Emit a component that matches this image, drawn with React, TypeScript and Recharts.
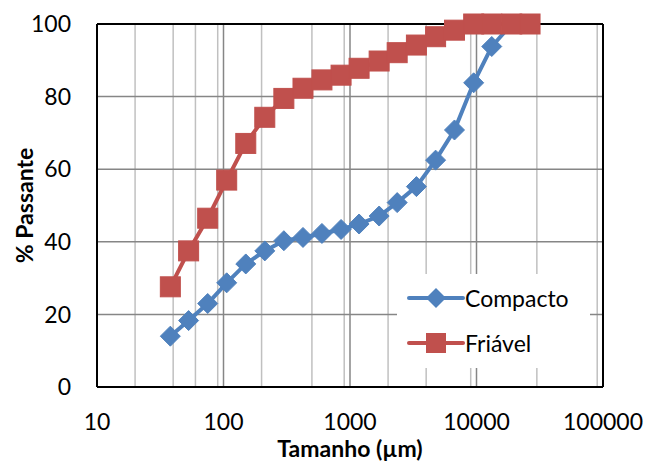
import React from "react";
import {
  LineChart,
  Line,
  XAxis,
  YAxis,
  CartesianGrid,
  ReferenceLine,
  Legend,
} from "recharts";

if (typeof document !== "undefined") document.body.style.margin = "0";

// peneiras (µm)
const sizes = [38, 53, 75, 106, 150, 212, 300, 425, 600, 850, 1180, 1700, 2360, 3350, 4750, 6700, 9500, 13200, 19000, 26500];
const compacto = [14.0, 18.3, 23.0, 28.7, 33.9, 37.5, 40.3, 41.2, 42.3, 43.4, 44.9, 47.1, 50.8, 55.2, 62.5, 70.8, 83.8, 93.8, 100, 100];
const friavel = [27.6, 37.5, 46.5, 57.0, 67.1, 74.3, 79.5, 82.3, 84.6, 85.9, 87.8, 89.8, 92.1, 94.2, 96.5, 98.3, 100, 100, 100, 100];

const xTicks = [10, 100, 1000, 10000, 100000];
const yTicks = [0, 20, 40, 60, 80, 100];

const BLUE = "#4F81BD";
const RED = "#C0504D";
const FONT = "Lato, 'Liberation Sans', sans-serif";

const data = sizes.map((size, i) => ({ size, compacto: compacto[i], friavel: friavel[i] }));

const minorX: number[] = [];
for (const d of [10, 100, 1000, 10000]) {
  for (let k = 2; k <= 9; k++) minorX.push(k * d);
}

const Diamond = (props: any) => {
  const { cx, cy, index } = props;
  if (cx == null || cy == null) return <g key={`d-${index}`} />;
  const r = 10;
  return (
    <path
      key={`d-${index}`}
      d={`M${cx},${cy - r}L${cx + r},${cy}L${cx},${cy + r}L${cx - r},${cy}Z`}
      fill={BLUE}
      stroke={BLUE}
    />
  );
};

const Square = (props: any) => {
  const { cx, cy, index } = props;
  if (cx == null || cy == null) return <g key={`s-${index}`} />;
  const r = 10;
  return <rect key={`s-${index}`} x={cx - r} y={cy - r} width={2 * r} height={2 * r} fill={RED} stroke={RED} />;
};

const series = [
  { name: "Compacto", color: BLUE, shape: "diamond" },
  { name: "Friável", color: RED, shape: "square" },
];

const renderLegend = () => (
  <div style={{ paddingTop: 1 }}>
    {series.map((s) => (
      <div key={s.name} style={{ display: "flex", alignItems: "center", height: 45 }}>
        <svg width={70} height={24} style={{ marginLeft: 10 }}>
          <line x1={2} y1={12} x2={56} y2={12} stroke={s.color} strokeWidth={4} strokeLinecap="round" />
          {s.shape === "diamond" ? (
            <path d="M29,2L39,12L29,22L19,12Z" fill={s.color} />
          ) : (
            <rect x={19} y={2} width={20} height={20} fill={s.color} />
          )}
        </svg>
        <span style={{ fontFamily: FONT, fontSize: 23, color: "#000", marginLeft: -12 }}>{s.name}</span>
      </div>
    ))}
  </div>
);

const YTitle = (props: any) => {
  const vb = props.viewBox || {};
  const x = vb.x + 24;
  const y = vb.y + vb.height / 2;
  return (
    <text
      x={x}
      y={y}
      transform={`rotate(-90, ${x}, ${y})`}
      textAnchor="middle"
      dominantBaseline="central"
      fontFamily={FONT}
      fontSize={23}
      fontWeight={700}
      fill="#000"
    >
      % Passante
    </text>
  );
};

export default function App() {
  return (
    <div style={{ width: 645, height: 462, background: "#fff" }}>
      <LineChart width={645} height={462} data={data} margin={{ top: 24, right: 42, left: 0, bottom: 0 }}>
        <CartesianGrid horizontal={false} verticalValues={minorX} stroke="#C0C0C0" strokeWidth={1.5} />
        <CartesianGrid verticalValues={xTicks} horizontalValues={yTicks} stroke="#868686" strokeWidth={1.5} />
        <XAxis
          dataKey="size"
          type="number"
          scale="log"
          domain={[10, 100000]}
          ticks={xTicks}
          allowDataOverflow
          height={75}
          tickLine={false}
          tickMargin={21}
          axisLine={{ stroke: "#000", strokeWidth: 2 }}
          tick={{ fill: "#000", fontSize: 23, fontFamily: FONT }}
          label={{
            value: "Tamanho (µm)",
            position: "insideBottom",
            offset: 5,
            fill: "#000",
            fontSize: 23,
            fontWeight: 700,
            fontFamily: FONT,
          }}
        />
        <YAxis
          type="number"
          domain={[0, 100]}
          ticks={yTicks}
          width={97}
          tickLine={false}
          tickMargin={20}
          axisLine={{ stroke: "#000", strokeWidth: 2 }}
          tick={{ fill: "#000", fontSize: 23, fontFamily: FONT }}
          label={<YTitle />}
        />
        <ReferenceLine y={100} stroke="#000" strokeWidth={2} />
        <ReferenceLine x={100000} stroke="#000" strokeWidth={2} />
        <Line
          dataKey="compacto"
          name="Compacto"
          stroke={BLUE}
          strokeWidth={4}
          dot={Diamond}
          activeDot={false}
          isAnimationActive={false}
        />
        <Line
          dataKey="friavel"
          name="Friável"
          stroke={RED}
          strokeWidth={4}
          dot={Square}
          activeDot={false}
          isAnimationActive={false}
        />
        <Legend
          layout="vertical"
          align="center"
          verticalAlign="middle"
          content={renderLegend}
          wrapperStyle={{ left: 397, top: 274, width: 193, height: 94, background: "#fff" }}
        />
      </LineChart>
    </div>
  );
}
